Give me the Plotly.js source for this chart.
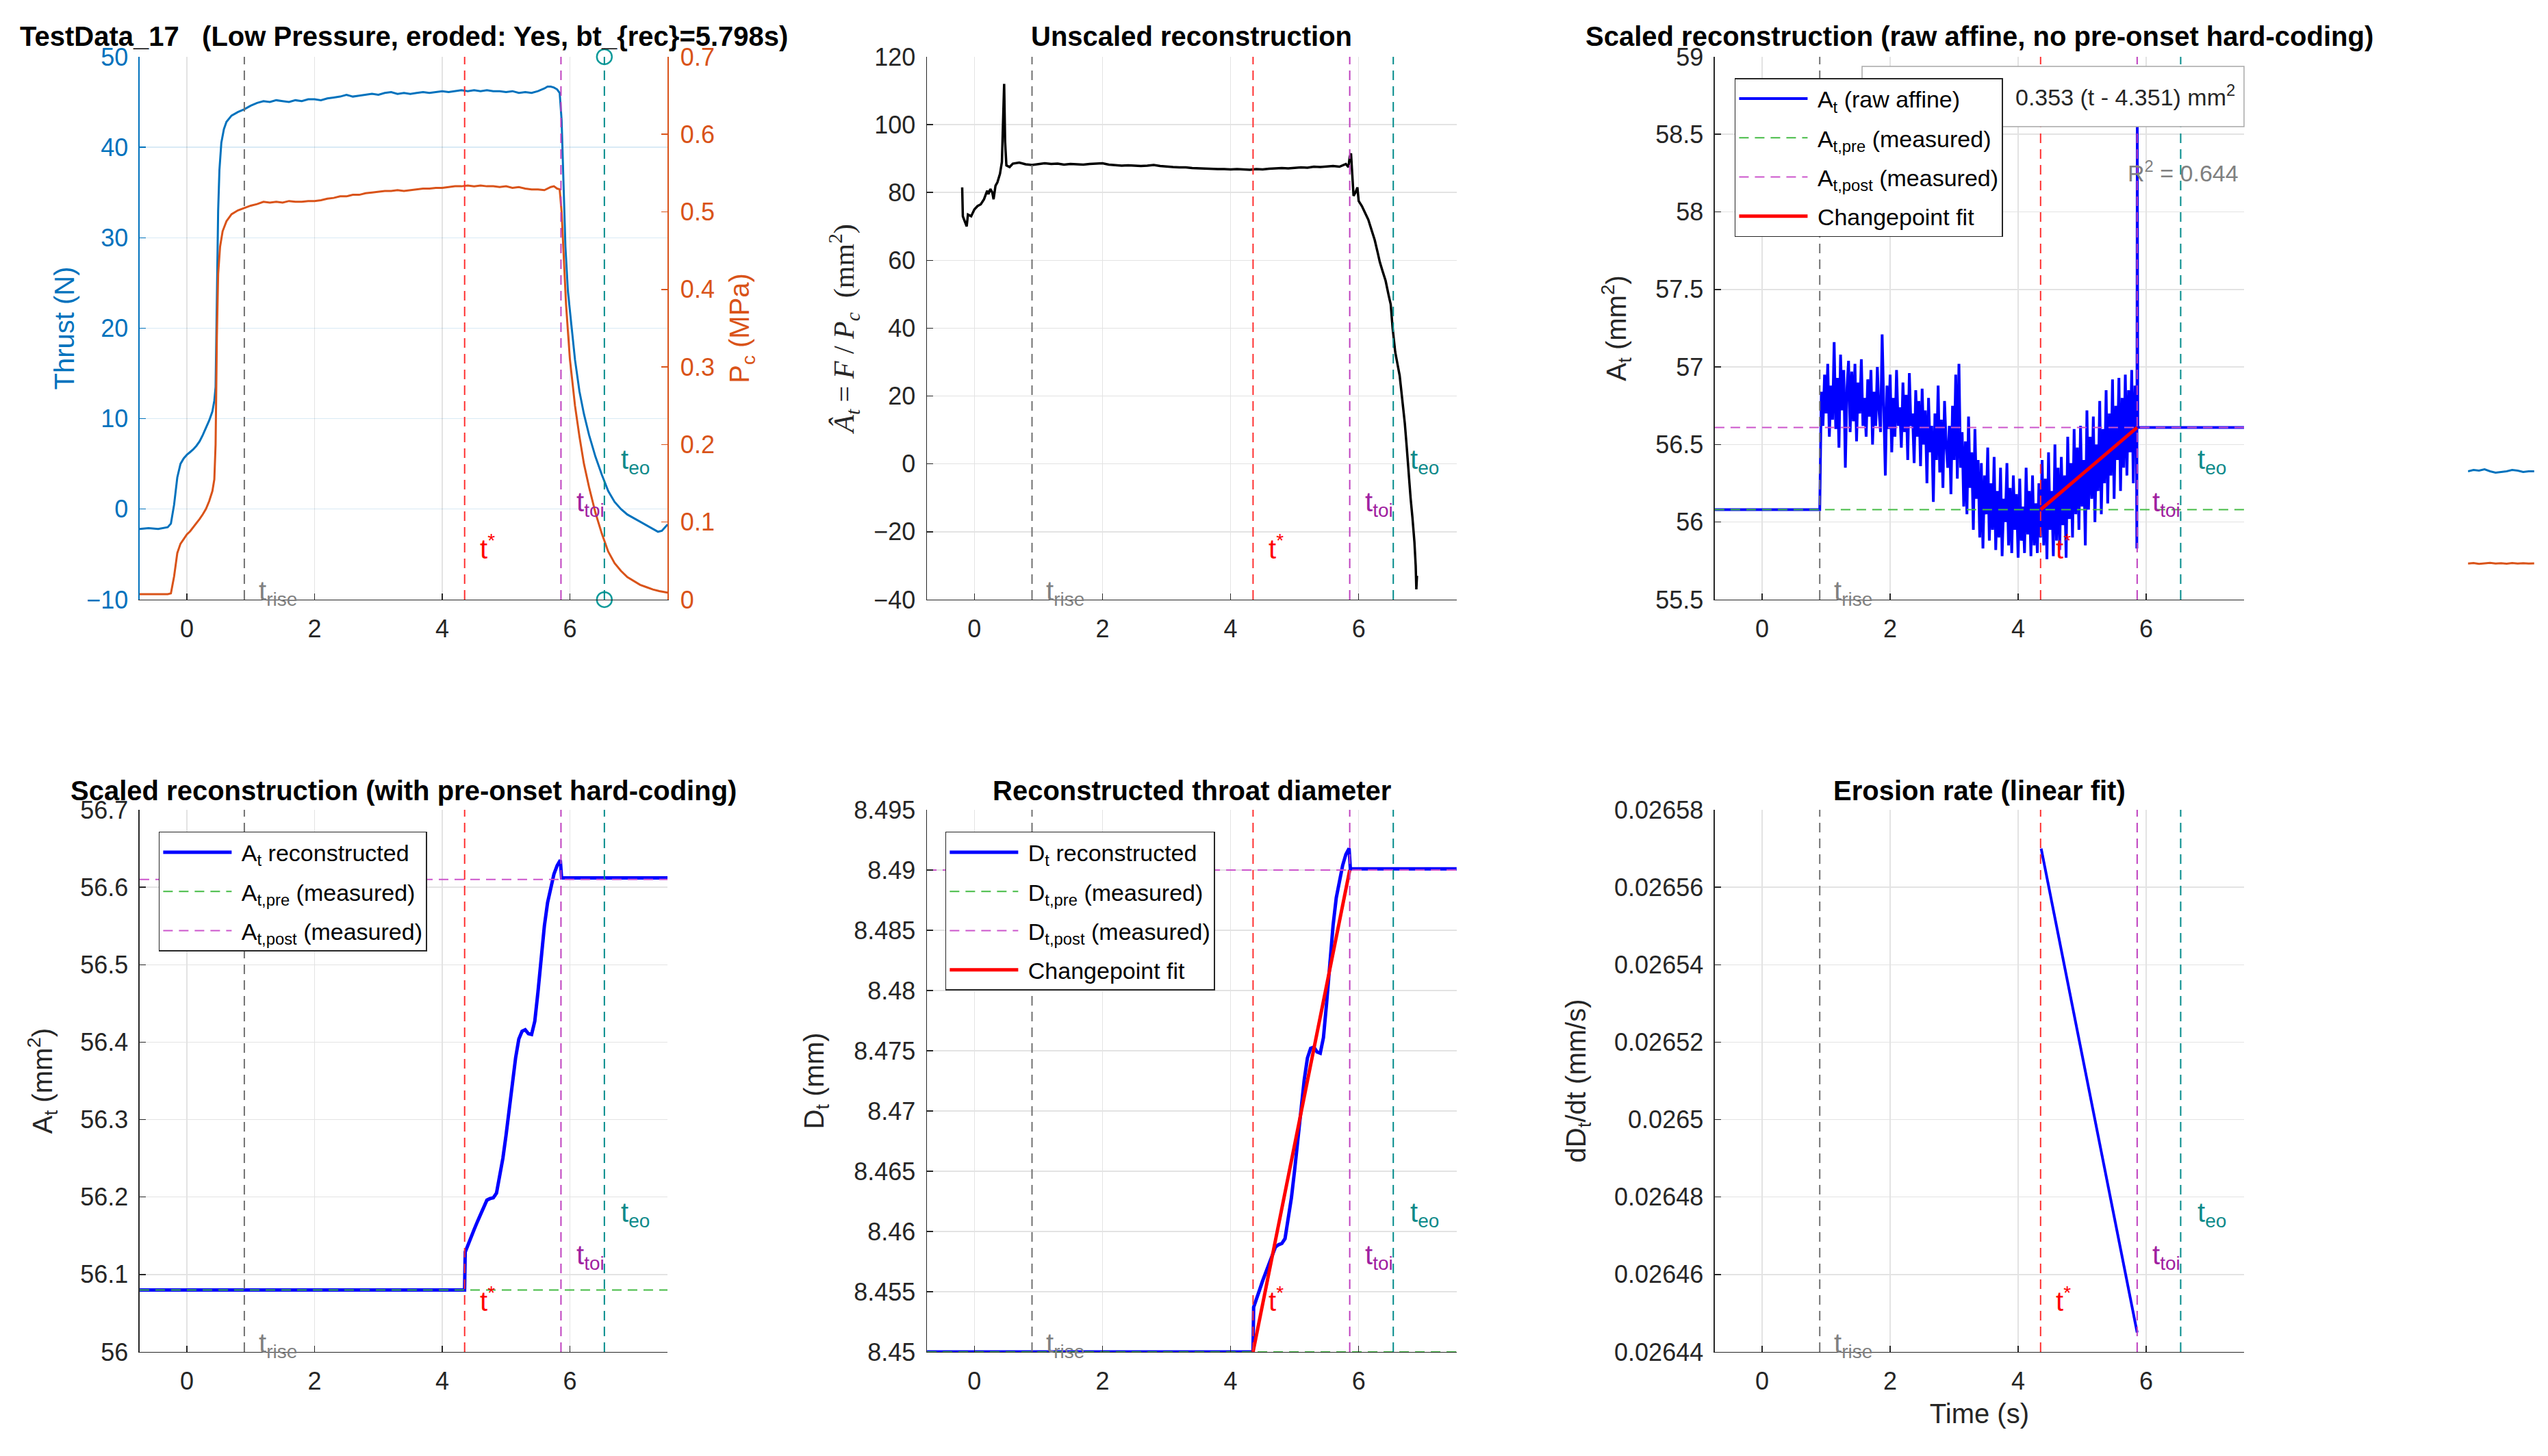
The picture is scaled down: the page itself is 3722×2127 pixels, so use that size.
<!DOCTYPE html>
<html><head><meta charset="utf-8">
<script src="https://cdn.plot.ly/plotly-3.0.1.min.js"></script>
<style>html,body{margin:0;padding:0;background:#fff;}#chart{width:3722px;height:2127px;}</style>
</head><body><div id="chart"></div>
<script>
// ---------------- DATA ----------------
const tStart = -0.74, tEnd = 7.53;
const tRise = 0.9, tStar = 4.351, tToi = 5.86, tEo = 6.54;

// Panel 1: thrust and chamber pressure
const thrustT = [-0.74,-0.6,-0.45,-0.3,-0.25,-0.2,-0.15,-0.1,-0.05,0.0,0.05,0.1,0.15,0.2,0.25,0.3,0.35,0.4,0.43,0.45,0.47,0.49,0.51,0.54,0.58,0.62,0.7,0.8,0.9,1.0,1.1,1.2,1.3,1.4,1.5,1.6,1.7,1.8,1.9,2.0,2.1,2.2,2.3,2.4,2.5,2.6,2.7,2.8,2.9,3.0,3.1,3.2,3.3,3.4,3.5,3.6,3.7,3.8,3.9,4.0,4.1,4.2,4.3,4.4,4.5,4.6,4.7,4.8,4.9,5.0,5.1,5.2,5.3,5.4,5.5,5.6,5.65,5.7,5.75,5.8,5.84,5.87,5.9,5.93,5.97,6.02,6.08,6.15,6.22,6.3,6.4,6.5,6.6,6.7,6.8,6.9,7.0,7.1,7.2,7.3,7.38,7.44,7.53];
const thrustN = [-2.2,-2.1,-2.2,-2.0,-1.6,0.5,3.5,5.0,5.6,6.0,6.3,6.6,7.0,7.5,8.2,9.0,9.8,10.8,12.0,13.5,22,33,37.5,40.5,42,42.8,43.5,43.9,44.2,44.6,44.9,45.1,45.0,45.2,45.1,45.0,45.2,45.1,45.3,45.3,45.2,45.4,45.5,45.6,45.8,45.6,45.7,45.8,45.9,45.8,46.0,46.1,45.9,46.0,45.9,46.0,46.1,46.0,46.1,46.2,46.1,46.2,46.3,46.2,46.3,46.2,46.3,46.2,46.2,46.1,46.2,46.0,46.1,46.0,46.2,46.5,46.7,46.7,46.6,46.4,46.0,43,36,29,24,20.5,16.5,13,10.5,8.2,5.8,3.8,2.0,0.8,0.0,-0.6,-1.0,-1.4,-1.8,-2.2,-2.5,-2.4,-1.7];
const pcT = [-0.74,-0.3,-0.25,-0.2,-0.15,-0.1,-0.05,0.0,0.05,0.1,0.15,0.2,0.25,0.3,0.35,0.4,0.43,0.45,0.47,0.49,0.52,0.56,0.62,0.7,0.8,0.9,1.0,1.1,1.2,1.3,1.4,1.5,1.6,1.7,1.8,1.9,2.0,2.1,2.2,2.3,2.4,2.5,2.6,2.7,2.8,2.9,3.0,3.1,3.2,3.3,3.4,3.5,3.6,3.7,3.8,3.9,4.0,4.1,4.2,4.3,4.4,4.5,4.6,4.7,4.8,4.9,5.0,5.1,5.2,5.3,5.4,5.5,5.6,5.7,5.75,5.8,5.84,5.87,5.9,5.94,6.0,6.08,6.15,6.22,6.3,6.4,6.5,6.6,6.7,6.8,6.9,7.0,7.1,7.2,7.3,7.4,7.53];
const pcMPa = [0.007,0.007,0.008,0.03,0.06,0.072,0.078,0.084,0.088,0.093,0.098,0.104,0.11,0.117,0.127,0.14,0.155,0.2,0.34,0.42,0.455,0.475,0.488,0.497,0.502,0.505,0.508,0.51,0.513,0.512,0.513,0.512,0.514,0.513,0.513,0.514,0.514,0.515,0.517,0.518,0.52,0.52,0.522,0.522,0.524,0.525,0.526,0.527,0.527,0.528,0.527,0.528,0.529,0.53,0.53,0.531,0.531,0.532,0.533,0.533,0.534,0.533,0.534,0.533,0.533,0.532,0.533,0.531,0.532,0.53,0.529,0.529,0.528,0.532,0.533,0.53,0.529,0.5,0.45,0.38,0.31,0.25,0.21,0.175,0.145,0.112,0.085,0.062,0.047,0.037,0.029,0.024,0.019,0.016,0.013,0.011,0.009];

// Panel 2: unscaled F/Pc
const ratioT = [-0.19,-0.185,-0.18,-0.15,-0.12,-0.1,-0.05,0.0,0.05,0.1,0.15,0.2,0.22,0.25,0.28,0.3,0.33,0.36,0.4,0.43,0.45,0.465,0.48,0.5,0.55,0.6,0.7,0.8,0.9,1.0,1.1,1.2,1.3,1.4,1.5,1.6,1.7,1.8,1.9,2.0,2.1,2.2,2.3,2.4,2.5,2.6,2.7,2.8,2.9,3.0,3.1,3.2,3.3,3.4,3.5,3.6,3.7,3.8,3.9,4.0,4.1,4.2,4.3,4.4,4.5,4.6,4.7,4.8,4.9,5.0,5.1,5.2,5.3,5.4,5.5,5.6,5.7,5.75,5.8,5.84,5.86,5.88,5.9,5.92,5.95,5.98,6.0,6.05,6.1,6.15,6.2,6.25,6.3,6.33,6.37,6.42,6.47,6.5,6.53,6.57,6.6,6.64,6.68,6.72,6.75,6.78,6.81,6.84,6.87,6.89,6.9,6.91];
const ratioA = [81.5,76,73,71.5,70,73.5,73,75,76,76.5,78,80.5,79.5,81,80,78,82,83,85.5,89,100,112,95,88,87.5,88.5,88.8,88.3,88.1,88.4,88.6,88.4,88.5,88.2,88.4,88.3,88.2,88.4,88.5,88.6,88.2,88.0,87.9,88.0,87.9,87.8,87.9,88.1,87.8,87.6,87.5,87.4,87.4,87.2,87.1,87.0,87.0,86.9,86.9,86.8,86.9,86.8,86.7,86.9,86.8,87.0,87.1,87.2,87.1,87.3,87.4,87.3,87.6,87.5,87.6,87.8,87.6,88.0,88.4,87.5,90.5,91.5,85,79,80,81.5,77.5,76,74,72,69,66,62,59.5,57,54,49.5,47,40,33,30,26,19,12,5,-3,-10,-16,-23,-30,-37,-33];

// Panel 3: raw affine reconstruction
const rawPreT = [-0.74, 0.9];
const rawPreA = [56.08, 56.08];
const rawNoiseStart = 0.925, rawNoiseStep = 0.025;
const rawNoiseA = [
56.84,56.62,56.95,56.70,57.02,56.55,56.88,56.66,57.16,56.60,
56.93,56.48,57.08,56.72,56.98,56.35,56.86,57.04,56.58,56.97,
56.65,57.02,56.52,56.90,56.70,57.05,56.62,56.80,56.55,56.92,
56.68,56.98,56.50,56.84,56.62,57.00,56.72,56.58,57.21,56.66,
56.30,56.88,56.60,56.95,56.45,56.80,56.55,56.98,56.62,56.74,
56.48,56.90,56.58,56.82,56.40,56.96,56.62,56.70,56.38,56.85,
56.55,56.78,56.36,56.86,56.50,56.72,56.25,56.80,56.45,56.62,
56.13,56.70,56.40,56.88,56.32,56.66,56.22,56.78,56.50,56.35,
56.62,56.18,56.75,56.40,56.95,56.28,57.02,56.35,56.58,56.10,
56.52,56.05,56.68,56.22,56.45,55.95,56.60,56.15,56.40,55.90,
56.38,55.83,56.30,56.05,56.48,55.88,56.25,55.95,56.42,55.82,
56.20,55.90,56.35,55.78,56.15,56.00,56.38,55.85,56.22,55.80,
56.30,55.95,56.18,55.77,56.28,55.88,56.10,55.80,56.35,55.92,
56.20,55.78,56.30,55.85,56.12,55.80,56.25,55.90,56.40,55.85,
56.28,55.76,56.45,55.95,56.20,55.78,56.50,55.88,56.35,55.82,
56.42,55.98,56.30,55.77,56.55,56.02,56.38,55.90,56.60,56.05,
56.48,55.95,56.62,56.10,56.40,55.85,56.72,56.08,56.55,56.15,
56.68,56.00,56.50,56.20,56.78,56.05,56.60,56.25,56.85,56.12,
56.70,56.30,56.92,56.15,56.75,56.40,56.93,56.20,56.80,56.35,
56.95,56.30,56.85,56.45,56.98,56.25,56.88,56.55];
const rawTailT = [5.855, 5.862, 5.87, 7.53];
const rawTailA = [55.83, 58.55, 56.61, 56.61];
const areaPre = 56.08, areaPost = 56.61;
const fitT = [4.351, 5.86];
const fitA = [56.08, 56.61];

// Panel 4: reconstructed area (hard-coded pre-onset)
const reconT = [-0.74,4.35,4.36,4.40,4.45,4.50,4.55,4.60,4.65,4.70,4.75,4.80,4.85,4.90,4.95,5.00,5.05,5.10,5.15,5.20,5.25,5.30,5.35,5.40,5.45,5.50,5.55,5.60,5.65,5.70,5.75,5.80,5.85,5.87,7.53];
const reconA = [56.08,56.08,56.129,56.138,56.148,56.158,56.168,56.178,56.188,56.196,56.198,56.199,56.205,56.225,56.25,56.28,56.315,56.35,56.38,56.404,56.414,56.416,56.411,56.41,56.427,56.465,56.51,56.55,56.58,56.60,56.617,56.628,56.635,56.612,56.612];

// Panel 5: throat diameter
const diamD = [8.4500,8.4500,8.4537,8.4544,8.4551,8.4559,8.4566,8.4574,8.4581,8.4587,8.4589,8.4590,8.4594,8.4609,8.4628,8.4651,8.4677,8.4703,8.4726,8.4744,8.4752,8.4753,8.4749,8.4748,8.4761,8.4790,8.4824,8.4854,8.4877,8.4892,8.4904,8.4913,8.4918,8.4901,8.4901];
const diamPre = 8.45, diamPost = 8.49;
const diamFitD = [8.45, 8.49];

// Panel 6: erosion rate
const rateT = [4.36,4.6,4.85,5.1,5.35,5.6,5.86];
const rateV = [0.026570,0.026550,0.026529,0.026508,0.026487,0.026467,0.026445];

// stray legend line samples at the far right
const snippetX = [0,1,2,3,4,5,6,7,8,9,10,11,12];
const snippetBlue = [0.85,0.86,0.855,0.865,0.85,0.84,0.845,0.85,0.86,0.855,0.845,0.85,0.85];
const snippetOrange = [0.14,0.145,0.138,0.142,0.146,0.14,0.143,0.139,0.145,0.141,0.143,0.14,0.142];

// ticks
const xTicks = [0,2,4,6];
const thrustTicks = [-10,0,10,20,30,40,50];
const pcTicks = [0,0.1,0.2,0.3,0.4,0.5,0.6,0.7];
const pcTickText = ['0','0.1','0.2','0.3','0.4','0.5','0.6','0.7'];
const ratioTicks = [-40,-20,0,20,40,60,80,100,120];
const p3Ticks = [55.5,56,56.5,57,57.5,58,58.5,59];
const p3TickText = ['55.5','56','56.5','57','57.5','58','58.5','59'];
const p4Ticks = [56,56.1,56.2,56.3,56.4,56.5,56.6,56.7];
const p4TickText = ['56','56.1','56.2','56.3','56.4','56.5','56.6','56.7'];
const p5Ticks = [8.45,8.455,8.46,8.465,8.47,8.475,8.48,8.485,8.49,8.495];
const p5TickText = ['8.45','8.455','8.46','8.465','8.47','8.475','8.48','8.485','8.49','8.495'];
const p6Ticks = [0.02644,0.02646,0.02648,0.0265,0.02652,0.02654,0.02656,0.02658];
const p6TickText = ['0.02644','0.02646','0.02648','0.0265','0.02652','0.02654','0.02656','0.02658'];

const panelTitles = ['TestData_17\u00a0\u00a0\u00a0(Low Pressure, eroded: Yes, bt_{rec}=5.798s)','Unscaled reconstruction','Scaled reconstruction (raw affine, no pre-onset hard-coding)','Scaled reconstruction (with pre-onset hard-coding)','Reconstructed throat diameter','Erosion rate (linear fit)'];
const eventTimes = [tRise, tStar, tToi, tEo];
const eventLabels = ['t<sub>rise</sub>','t<sup>*</sup>','t<sub>toi</sub>','t<sub>eo</sub>'];

// ---------------- BUILD ----------------
const rawT = rawPreT.slice(), rawA = rawPreA.slice();
rawNoiseA.forEach((v,i)=>{ rawT.push(+(rawNoiseStart + i*rawNoiseStep).toFixed(4)); rawA.push(v); });
rawTailT.forEach((v,i)=>{ rawT.push(v); rawA.push(rawTailA[i]); });

const F = 'Liberation Sans, Arial, Helvetica, sans-serif';
const AX = '#262626';
const cBlue = '#0000FF', cRed = '#FF0000', cGreen = '#44BB44', cMag = '#CC55CC';
const lineCols = ['#707070','#FF3030','#BF40BF','#008B8B'];
const labCols = ['#808080','#FF0000','#A020A0','#0E8A8A'];
const S = '\u00a0';

const colDom = [[0.0548,0.2620],[0.3638,0.5717],[0.6730,0.8807]];
const rowDom = [[0.5882,0.9610],[0.0715,0.4438]];

function xa(i, showTitle){
  const o = {domain: colDom[(i-1)%3], anchor: 'y'+(i===1?'':i), range:[tStart,tEnd],
    tickvals:xTicks, ticks:'inside', ticklen:9, tickwidth:1.5, tickcolor:AX,
    showline:true, linecolor:AX, linewidth:1.5, showgrid:true, gridcolor:'#E3E3E3', gridwidth:1.5,
    zeroline:false, tickfont:{family:F,size:36,color:AX}, ticklabelstandoff:10};
  if(showTitle) o.title = {text:'Time (s)', font:{family:F,size:40,color:AX}, standoff:14};
  return o;
}
function ya(i, range, tv, tt, title, standoff, tfont){
  const o = {domain: rowDom[i<=3?0:1], anchor:'x'+(i===1?'':i), range:range, tickvals:tv,
    ticks:'inside', ticklen:9, tickwidth:1.5, tickcolor:AX, showline:true, linecolor:AX, linewidth:1.5,
    showgrid:true, gridcolor:'#E3E3E3', gridwidth:1.5, zeroline:false,
    tickfont:{family:F,size:36,color:AX}, ticklabelstandoff:8,
    title:{text:title, font: tfont || {family:F,size:40,color:AX}, standoff:standoff}};
  if(tt) o.ticktext = tt;
  return o;
}

const traces = [
  {x:thrustT, y:thrustN, xaxis:'x', yaxis:'y', mode:'lines', line:{color:'#0072BD',width:3}, showlegend:false},
  {x:pcT, y:pcMPa, xaxis:'x', yaxis:'y7', mode:'lines', line:{color:'#D95319',width:3}, showlegend:false},
  {x:[tEo,tEo], y:[50,-10], xaxis:'x', yaxis:'y', mode:'markers', marker:{symbol:'circle-open',size:22,color:'#0E9A9A',line:{width:2.5}}, cliponaxis:false, showlegend:false},
  {x:ratioT, y:ratioA, xaxis:'x2', yaxis:'y2', mode:'lines', line:{color:'#000000',width:3.5}, showlegend:false},
  // panel 3
  {x:rawT, y:rawA, xaxis:'x3', yaxis:'y3', mode:'lines', line:{color:cBlue,width:4}, name:S+'A<sub>t</sub> (raw affine)', legend:'legend', legendgroup:'a1'},
  {x:[tStart,tEnd], y:[areaPre,areaPre], xaxis:'x3', yaxis:'y3', mode:'lines', line:{color:cGreen,width:2,dash:'14px,9px'}, name:S+'A<sub>t,pre</sub> (measured)', legend:'legend', legendgroup:'a2'},
  {x:[tStart,tEnd], y:[areaPost,areaPost], xaxis:'x3', yaxis:'y3', mode:'lines', line:{color:cMag,width:2,dash:'14px,9px'}, name:S+'A<sub>t,post</sub> (measured)', legend:'legend', legendgroup:'a3'},
  {x:fitT, y:fitA, xaxis:'x3', yaxis:'y3', mode:'lines', line:{color:cRed,width:5}, name:S+'Changepoint fit', legend:'legend', legendgroup:'a4'},
  // panel 4
  {x:reconT, y:reconA, xaxis:'x4', yaxis:'y4', mode:'lines', line:{color:cBlue,width:5}, name:S+'A<sub>t</sub> reconstructed', legend:'legend2', legendgroup:'b1'},
  {x:[tStart,tEnd], y:[areaPre,areaPre], xaxis:'x4', yaxis:'y4', mode:'lines', line:{color:cGreen,width:2,dash:'14px,9px'}, name:S+'A<sub>t,pre</sub> (measured)', legend:'legend2', legendgroup:'b2'},
  {x:[tStart,tEnd], y:[areaPost,areaPost], xaxis:'x4', yaxis:'y4', mode:'lines', line:{color:cMag,width:2,dash:'14px,9px'}, name:S+'A<sub>t,post</sub> (measured)', legend:'legend2', legendgroup:'b3'},
  // panel 5
  {x:reconT, y:diamD, xaxis:'x5', yaxis:'y5', mode:'lines', line:{color:cBlue,width:5}, name:S+'D<sub>t</sub> reconstructed', legend:'legend3', legendgroup:'c1'},
  {x:[tStart,tEnd], y:[diamPre,diamPre], xaxis:'x5', yaxis:'y5', mode:'lines', line:{color:cGreen,width:2,dash:'14px,9px'}, name:S+'D<sub>t,pre</sub> (measured)', legend:'legend3', legendgroup:'c2'},
  {x:[tStart,tEnd], y:[diamPost,diamPost], xaxis:'x5', yaxis:'y5', mode:'lines', line:{color:cMag,width:2,dash:'14px,9px'}, name:S+'D<sub>t,post</sub> (measured)', legend:'legend3', legendgroup:'c3'},
  {x:fitT, y:diamFitD, xaxis:'x5', yaxis:'y5', mode:'lines', line:{color:cRed,width:5}, name:S+'Changepoint fit', legend:'legend3', legendgroup:'c4'},
  // panel 6
  {x:rateT, y:rateV, xaxis:'x6', yaxis:'y6', mode:'lines', line:{color:cBlue,width:4}, showlegend:false},
  // stray samples
  {x:snippetX, y:snippetBlue, xaxis:'x8', yaxis:'y8', mode:'lines', line:{color:'#0072BD',width:3}, showlegend:false},
  {x:snippetX, y:snippetOrange, xaxis:'x8', yaxis:'y8', mode:'lines', line:{color:'#D95319',width:3}, showlegend:false}
];

const shapes = [], annotations = [];
for(let p=1;p<=6;p++){
  const xr = 'x'+(p===1?'':p), yr = 'y'+(p===1?'':p)+' domain';
  eventTimes.forEach((t,k)=>{
    shapes.push({type:'line', xref:xr, yref:yr, x0:t, x1:t, y0:0, y1:1, line:{color:lineCols[k], width:2, dash:'14px,9px'}, layer:'above'});
  });
  const yfr = [0.012, 0.097, 0.176, 0.254];
  const off = [0.2, 0.22, 0.22, 0.24];
  eventTimes.forEach((t,k)=>{
    annotations.push({xref:xr, yref:yr, x:t+off[k], y:yfr[k], xanchor:'left', yanchor:'middle', showarrow:false, text:eventLabels[k], font:{family:F,size:40,color:labCols[k]}});
  });
  const cd = colDom[(p-1)%3];
  annotations.push({xref:'paper', yref:'paper', x:(cd[0]+cd[1])/2, y:p<=3?0.9752:0.4572, xanchor:'center', yanchor:'middle', showarrow:false, text:'<b>'+panelTitles[p-1]+'</b>', font:{family:F,size:40,color:'#000'}});
}
// equation box in panel 3 (partly hidden behind legend)
shapes.push({type:'rect', xref:'paper', yref:'paper', x0:0.7308, x1:0.8807, y0:0.9130, y1:0.9544, fillcolor:'#FFFFFF', line:{color:'#A8A8A8', width:1.5}, layer:'above'});
annotations.push({xref:'paper', yref:'paper', x:0.8778, y:0.9342, xanchor:'right', yanchor:'middle', showarrow:false, text:'0.353 (t - 4.351) mm<sup>2</sup>', font:{family:F,size:34,color:AX}});
annotations.push({xref:'x3', yref:'y3 domain', x:5.69, y:0.789, xanchor:'left', yanchor:'middle', showarrow:false, text:'R<sup>2</sup> = 0.644', font:{family:F,size:34,color:'#808080'}});

const legBase = {bgcolor:'#FFFFFF', bordercolor:AX, borderwidth:1.5, font:{family:F,size:34,color:'#000'}, itemwidth:100, xanchor:'left', yanchor:'top', tracegroupgap:10, traceorder:'grouped'};

const layout = {
  width:3722, height:2127, autosize:false, margin:{l:0,r:0,t:0,b:0}, paper_bgcolor:'#fff', plot_bgcolor:'#fff',
  font:{family:F, size:36, color:AX},
  xaxis: xa(1), xaxis2: xa(2), xaxis3: xa(3), xaxis4: xa(4), xaxis5: xa(5), xaxis6: xa(6, true),
  yaxis: Object.assign(ya(1,[-10,50],thrustTicks,null,'Thrust (N)',5,{family:F,size:40,color:'#0072BD'}),
          {tickfont:{family:F,size:36,color:'#0072BD'}, linecolor:'#0072BD', tickcolor:'#0072BD', gridcolor:'rgba(0,114,189,0.15)'}),
  yaxis7: {overlaying:'y', anchor:'x', side:'right', range:[0,0.7], tickvals:pcTicks, ticktext:pcTickText,
          ticks:'inside', ticklen:9, tickwidth:1.5, tickcolor:'#D95319', showline:true, linecolor:'#D95319', linewidth:1.5,
          showgrid:false, zeroline:false, tickfont:{family:F,size:36,color:'#D95319'}, ticklabelstandoff:10,
          title:{text:'P<sub>c</sub> (MPa)', font:{family:F,size:40,color:'#D95319'}, standoff:23}},
  yaxis2: ya(2,[-40,120],ratioTicks,null,'<i>Â</i><sub><i>t</i></sub> = <i>F</i> / <i>P</i><sub><i>c</i></sub>  (mm<sup>2</sup>)',15,{family:'Liberation Serif, DejaVu Serif, serif',size:42,color:AX}),
  yaxis3: ya(3,[55.5,59],p3Ticks,p3TickText,'A<sub>t</sub> (mm<sup>2</sup>)',30),
  yaxis4: ya(4,[56,56.7],p4Ticks,p4TickText,'A<sub>t</sub> (mm<sup>2</sup>)',28),
  yaxis5: ya(5,[8.45,8.495],p5Ticks,p5TickText,'D<sub>t</sub> (mm)',31),
  yaxis6: ya(6,[0.02644,0.02658],p6Ticks,p6TickText,'dD<sub>t</sub>/dt (mm/s)',29),
  xaxis8: {domain:[0.9686,0.9946], anchor:'y8', range:[0,12], visible:false, fixedrange:true},
  yaxis8: {domain:[0.6004,0.6897], anchor:'x8', range:[0,1], visible:false, fixedrange:true},
  legend: Object.assign({}, legBase, {x:0.6808, y:0.9464}),
  legend2: Object.assign({}, legBase, {x:0.0623, y:0.4288}),
  legend3: Object.assign({}, legBase, {x:0.3710, y:0.4288}),
  shapes: shapes, annotations: annotations
};

Plotly.newPlot('chart', traces, layout, {staticPlot:true, displayModeBar:false});
</script></body></html>
